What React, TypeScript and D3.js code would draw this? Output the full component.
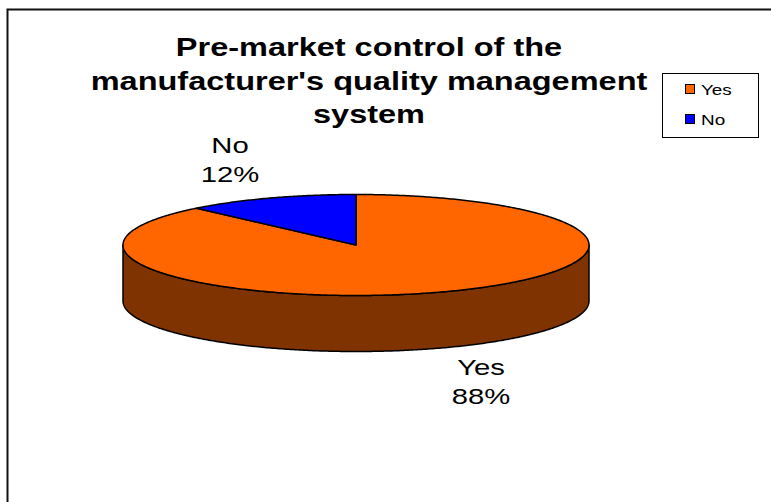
import React from "react";
import * as d3 from "d3";

const categories = ["Yes", "No"];
const values = [88, 12];
const colors = ["#FF6600", "#0000FF"];
const titleLines = ["Pre-market control of the", "manufacturer's quality management", "system"];

const W = 771, H = 502;
const cx = 356, cy = 245, rx = 233, ry = 50.5, depth = 56;
const SX = 1.33;

function pt(a: number, dy = 0): [number, number] {
  return [cx + rx * Math.sin(a), cy - ry * Math.cos(a) + dy];
}

function arcPoints(a0: number, a1: number, dy = 0): [number, number][] {
  const n = Math.max(2, Math.ceil(Math.abs(a1 - a0) / 0.01));
  return d3.range(n + 1).map((i) => pt(a0 + ((a1 - a0) * i) / n, dy));
}

export default function App() {
  const pie = d3.pie<number>().sort(null).value((d) => d);
  const arcs = pie(values);
  const line = d3.line();

  const wallParts = arcs
    .map((a, i) => {
      const s = Math.max(a.startAngle, Math.PI / 2);
      const e = Math.min(a.endAngle, (3 * Math.PI) / 2);
      if (e <= s) return null;
      const top = arcPoints(s, e, 0);
      const bot = arcPoints(e, s, depth);
      return { d: line([...top, ...bot])! + "Z", i };
    })
    .filter(Boolean) as { d: string; i: number }[];

  const wallColors = ["#7F3300", "#00007F"];

  const labelPos = [
    { x: 481, y: 375 },
    { x: 230, y: 153 },
  ];
  const font = "Arial, Liberation Sans, sans-serif";

  return (
    <svg width={W} height={H} style={{ position: "absolute", left: 0, top: 0, background: "#fff" }}>
      <path d={`M7.5,${H}V9.5H${W}`} fill="none" stroke="#111" strokeWidth={2} />
      {titleLines.map((t, i) => (
        <text key={i} transform={`translate(369,${56 + i * 33.5}) scale(1.3,1)`} fontFamily={font} fontWeight="bold" fontSize={25} textAnchor="middle" fill="#000">{t}</text>
      ))}
      {wallParts.map((w) => (
        <path key={"w" + w.i} d={w.d} fill={wallColors[w.i]} stroke="#000" strokeWidth={1.5} strokeLinejoin="round" />
      ))}
      {arcs.map((a, i) => {
        const pts: [number, number][] = [[cx, cy], ...arcPoints(a.startAngle, a.endAngle)];
        return <path key={i} d={line(pts)! + "Z"} fill={colors[i]} stroke="#000" strokeWidth={1.5} strokeLinejoin="round" />;
      })}
      {arcs.map((a, i) => (
        <g key={i} fontFamily={font} fontSize={22} textAnchor="middle" fill="#000">
          <text transform={`translate(${labelPos[i].x},${labelPos[i].y}) scale(${SX},1)`}>{categories[i]}</text>
          <text transform={`translate(${labelPos[i].x},${labelPos[i].y + 29}) scale(${SX},1)`}>
            {Math.round((values[i] / d3.sum(values)) * 100)}%
          </text>
        </g>
      ))}
      <rect x={662.5} y={73.5} width={96} height={64} fill="#fff" stroke="#000" strokeWidth={1} />
      {categories.map((c, i) => (
        <g key={c}>
          <rect x={685.5} y={84.5 + i * 30} width={9} height={9} fill={colors[i]} stroke="#000" strokeWidth={1} />
          <text transform={`translate(701,${95 + i * 30}) scale(1.22,1)`} fontFamily={font} fontSize={15.5} fill="#000">{c}</text>
        </g>
      ))}
    </svg>
  );
}
